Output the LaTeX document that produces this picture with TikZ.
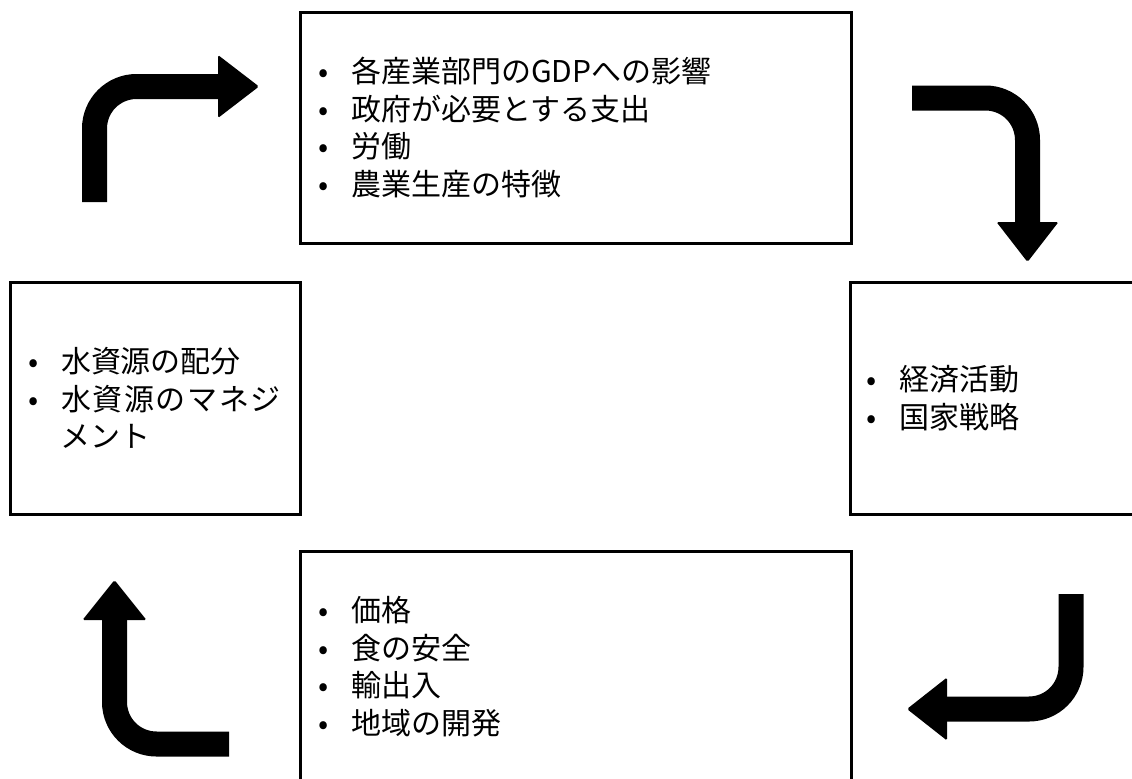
\documentclass[tikz,border=0pt]{standalone}
\usepackage{fontspec}
\setmainfont{Noto Sans CJK JP}
\newcommand{\itm}[1]{\makebox[16.5pt][l]{•}#1}
\tikzset{
  topicbox/.style={draw,line width=1.5pt,inner xsep=9pt,align=left,
    font=\fontsize{15}{18.8}\selectfont},
  bentarrow/.style={line width=12.5pt,rounded corners=21pt},
  arrowhead/.style={fill=black,rounded corners=0.8pt}
}
\begin{document}
\begin{tikzpicture}[x=0.5pt,y=-0.5pt]
                \clip (0,0) rectangle (1132,778);
                %% boxes
                \node[topicbox,minimum width=275.5pt,minimum height=115.5pt,text width=257.5pt] (econ) at (575.5,127.5)
                  {\itm{各産業部門のGDPへの影響}\\ \itm{政府が必要とする支出}\\ \itm{労働}\\ \itm{農業生産の特徴}};
                \node[topicbox,minimum width=145pt,minimum height=116pt,text width=127pt] (water) at (155,398)
                  {\itm{水資源の配分}\\ \itm{\hbox to 110pt{水\hfill 資\hfill 源\hfill の\hfill マ\hfill ネ\hfill ジ}}\\ \hspace*{16.5pt}メント};
                \node[topicbox,inner xsep=8pt,minimum width=145pt,minimum height=116pt,text width=129pt] (state) at (995,398)
                  {\itm{経済活動}\\ \itm{国家戦略}};
                \node[topicbox,minimum width=275.5pt,minimum height=115.5pt,text width=257.5pt] (food) at (575.5,666.5)
                  {\itm{価格}\\ \itm{食の安全}\\ \itm{輸出入}\\ \itm{地域の開発}};
                %% arrow ends
                \coordinate (a1) at (94.5,202);
                \coordinate (b1) at (218,86.5);
                \coordinate (a2) at (912,98);
                \coordinate (b2) at (1027.5,222);
                \coordinate (a3) at (1071,594);
                \coordinate (b3) at (947,709);
                \coordinate (a4) at (229,744);
                \coordinate (b4) at (114.5,620);
                %% arrows
                \draw[bentarrow] (a1) |- (b1);
                \fill[arrowhead] (b1) ++(0,-31.5) -- ++(41,31.5) -- ++(-41,31.5) -- cycle;
                \draw[bentarrow] (a2) -| (b2);
                \fill[arrowhead] (b2) ++(-31,0) -- ++(31,40) -- ++(31,-40) -- cycle;
                \draw[bentarrow] (a3) |- (b3);
                \fill[arrowhead] (b3) ++(0,-31.5) -- ++(-40,31.5) -- ++(40,31.5) -- cycle;
                \draw[bentarrow] (a4) -| (b4);
                \fill[arrowhead] (b4) ++(-32,0) -- ++(32,-40) -- ++(32,40) -- cycle;
\end{tikzpicture}
\end{document}
